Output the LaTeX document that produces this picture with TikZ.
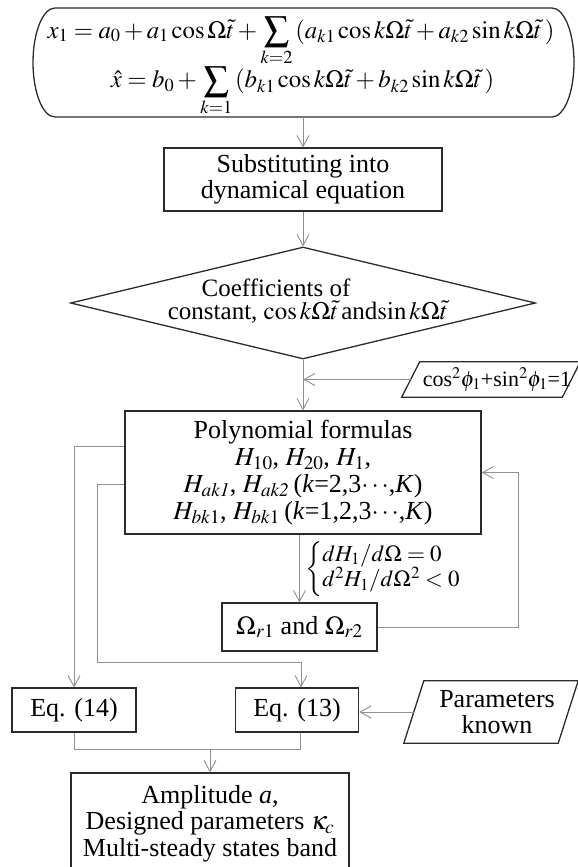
\documentclass[tikz,border=0pt]{standalone}
\usepackage{mathptmx}
\usepackage[no-math]{fontspec}
\setmainfont{Liberation Serif}
\usetikzlibrary{arrows.meta,shapes.geometric}
\definecolor{boxc}{HTML}{2B2B2B}
\definecolor{linec}{HTML}{8E8E8E}
\newcommand{\fsA}{\fontsize{26}{26.5}\selectfont}
\newcommand{\fsB}{\fontsize{26}{27}\selectfont}
\newcommand{\fsC}{\fontsize{25}{25}\selectfont}
\newcommand{\fsE}{\fontsize{24.8}{24.8}\selectfont}
\newcommand{\fsD}{\fontsize{23}{25}\selectfont}
\newcommand{\fsF}{\fontsize{22}{24}\selectfont}
\begin{document}
\begin{tikzpicture}[x=1pt,y=-1pt,
  box/.style={draw=boxc, line width=1.3pt, inner sep=0pt, align=center, font=\fsA},
  conn/.style={draw=linec, line width=0.9pt},
  arr/.style={conn, -{Straight Barb[length=11pt,width=12pt,line width=0.9pt]}},
  txt/.style={inner sep=0pt, anchor=base}]
\useasboundingbox (0,0) rectangle (578,867);
\clip (0,0) rectangle (578,867);
% top equations box
\node[inner sep=0pt, minimum width=541pt, minimum height=109pt] (eqbox) at (303.5,62.5) {};
\draw[boxc, line width=1.3pt] (55,8) -- (552,8) arc[start angle=-90, end angle=90, x radius=22, y radius=54.5]
  -- (55,117) arc[start angle=90, end angle=270, x radius=22, y radius=54.5] -- cycle;
\node[txt, font=\fsE] (eq1) at (301,38) {$\displaystyle x_1 = a_0 + a_1\cos\Omega\tilde t + \sum_{k=2}\,(a_{k1}\cos k\Omega\tilde t + a_{k2}\sin k\Omega\tilde t\,)$};
\node[txt, font=\fsE] (eq2) at (302.5,88) {$\displaystyle \hat x = b_0 + \sum_{k=1}\,(b_{k1}\cos k\Omega\tilde t + b_{k2}\sin k\Omega\tilde t\,)$};
% substituting
\node[box, minimum width=278pt, minimum height=63pt] (sub) at (303,179.5) {Substituting into\\dynamical equation};
% diamond
\node[draw=boxc, line width=1.3pt, diamond, inner sep=0pt, minimum width=465pt, minimum height=112pt] (dia) at (303,303) {};
\node[txt, font=\fsC] (d1) at (276,296) {Coefficients of};
\node[txt, font=\fsC] (d2) at (308,319) {constant, $\cos k\Omega\tilde t\,$and$\sin k\Omega\tilde t$};
% parallelogram 1
\node[inner sep=0pt, minimum width=156pt, minimum height=35pt, align=center, font=\fsF] (p1) at (491,379.5) {\hspace*{12pt}cos$^2\phi_1$+sin$^2\phi_1$=1};
\draw[boxc, line width=1.3pt] ([xshift=9pt]p1.north west) -- ([xshift=9pt]p1.north east) -- ([xshift=-9pt]p1.south east) -- ([xshift=-9pt]p1.south west) -- cycle;
% polynomial
\node[box, font=\fsB, minimum width=356pt, minimum height=123pt] (poly) at (303,472.5) {Polynomial formulas\\
  $H_{10}$, $H_{20}$, $H_1$,\\
  $H_{\mathit{ak1}}$, $H_{\mathit{ak2}}$\,(\textit{k}=2,3$\cdots$,\textit{K})\\
  $H_{bk1}$, $H_{bk1}$\,(\textit{k}=1,2,3$\cdots$,\textit{K})};
% condition
\node[inner sep=0pt, anchor=west, font=\fsD] (cond) at (305,569) {$\left\{\begin{array}{@{}l@{}}dH_1/d\Omega = 0\\[-2pt] d^2H_1/d\Omega^2 < 0\end{array}\right.$};
% omega box
\node[box, minimum width=155pt, minimum height=48pt] (om) at (299.5,627) {$\Omega_{r1}$ and $\Omega_{r2}$};
% eq boxes
\node[box, minimum width=124pt, minimum height=44pt] (eq14) at (74,710) {Eq. (14)};
\node[box, minimum width=123pt, minimum height=44pt] (eq13) at (297,710) {Eq. (13)};
% parameters
\node[inner sep=0pt, minimum width=154pt, minimum height=62pt, align=center, font=\fsA] (p2) at (491,712) {\hspace*{12pt}Parameters\\\hspace*{12pt}known};
\draw[boxc, line width=1.3pt] ([xshift=10pt]p2.north west) -- ([xshift=10pt]p2.north east) -- ([xshift=-10pt]p2.south east) -- ([xshift=-10pt]p2.south west) -- cycle;
% bottom
\node[box, minimum width=278pt, minimum height=101pt] (bot) at (210,823.5) {Amplitude \textit{a},\\Designed parameters $\kappa_c$\\Multi-steady states band};
% connectors
\draw[arr] (eqbox.south -| sub.north) -- (sub.north);
\draw[arr] (sub.south) -- (dia.north);
\draw[arr] (dia.south) -- (poly.north);
\draw[arr] (p1.west) -- (p1.west -| dia.south);
\draw[arr] (om.north |- poly.south) -- (om.north);
\draw[arr] (om.east) -| ([xshift=37pt]poly.east) -- (poly.east);
\draw[arr] ([yshift=-36pt]poly.north west) -| (eq14.north);
\draw[arr] ([yshift=-74pt]poly.north west) -- ++(-27,0) |- ([xshift=4pt,yshift=25pt]eq13.north) -- ([xshift=4pt]eq13.north);
\draw[arr] (p2.west) -- (p2.west -| eq13.east);
\coordinate (m) at ([yshift=23pt]bot.north);
\draw[conn] (eq14.south) |- (m);
\draw[conn] ([xshift=3pt]eq13.south) |- (m);
\draw[arr] (m) -- (bot.north);
\end{tikzpicture}
\end{document}
